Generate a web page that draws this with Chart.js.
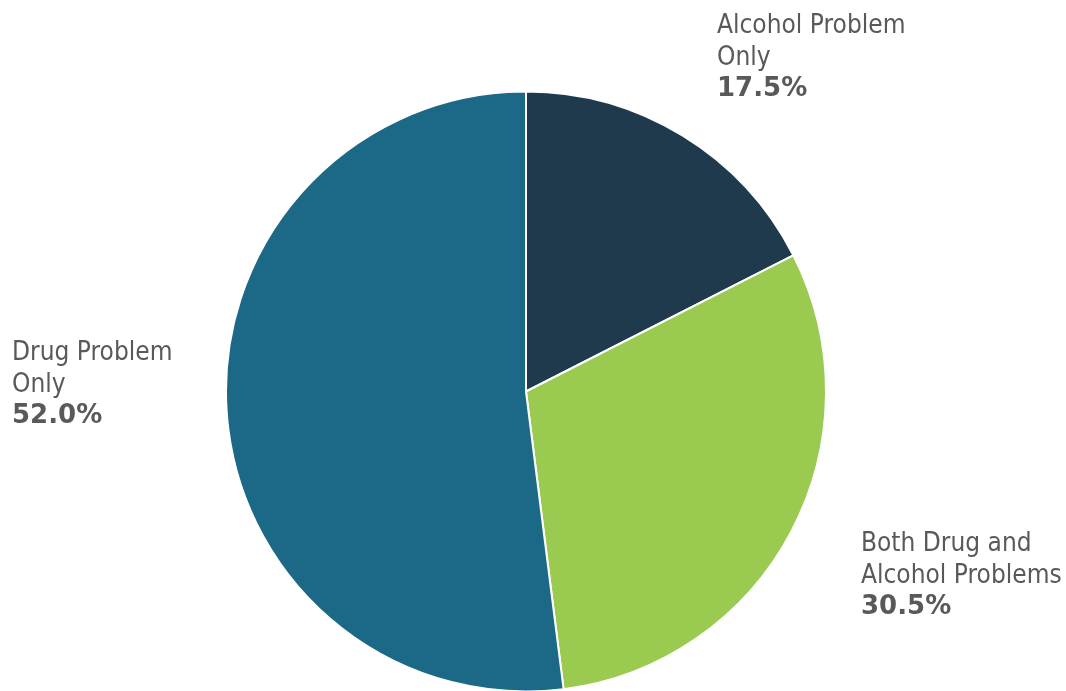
<!DOCTYPE html>
<html>
<head>
<meta charset="utf-8">
<script src="https://cdn.jsdelivr.net/npm/chart.js@4"></script>
<style>
    html, body { margin: 0; padding: 0; background: #fff; overflow: hidden; }
    #wrap { width: 1066px; height: 691px; }
</style>
</head>
<body>
<div id="wrap"><canvas id="pieChart"></canvas></div>
<script>
const categories = ['Alcohol Problem Only', 'Both Drug and Alcohol Problems', 'Drug Problem Only'];
const labelLines = [['Alcohol Problem', 'Only'], ['Both Drug and', 'Alcohol Problems'], ['Drug Problem', 'Only']];
const shares = [17.5, 30.5, 52.0];
const colors = ['#1f3a4d', '#9acb50', '#1b6986'];

// where each label block starts (left x, first baseline y)
const labelAnchors = [[717, 33], [861, 551], [12, 360]];

const sideLabels = {
    id: 'sideLabels',
    afterDatasetsDraw(chart) {
        const { ctx } = chart;
        const font = 'DejaVu Sans, Verdana, sans-serif';
        const squeeze = 0.9; // DejaVu is wider than the Tahoma-ish original
        ctx.save();
        ctx.fillStyle = '#595959';
        ctx.textAlign = 'left';
        ctx.textBaseline = 'alphabetic';
        chart.data.datasets[0].data.forEach((value, i) => {
            const [x, y] = labelAnchors[i];
            ctx.save();
            ctx.translate(x, 0);
            ctx.scale(squeeze, 1);
            ctx.font = `26px ${font}`;
            labelLines[i].forEach((line, j) => ctx.fillText(line, 0, y + j * 31.5));
            ctx.restore();
            ctx.font = `bold 26px ${font}`;
            ctx.fillText(value.toFixed(1) + '%', x, y + labelLines[i].length * 31.5);
        });
        ctx.restore();
    },
};

new Chart(document.getElementById('pieChart'), {
    type: 'pie',
    data: {
        labels: categories,
        datasets: [{ data: shares, backgroundColor: colors, borderColor: '#ffffff', borderWidth: 2, hoverOffset: 0 }],
    },
    options: {
        responsive: true,
        maintainAspectRatio: false,
        animation: false,
        radius: 300,
        layout: { padding: { top: 92, bottom: 0, left: 0, right: 14 } },
        plugins: { legend: { display: false }, tooltip: { enabled: false } },
    },
    plugins: [sideLabels],
});
</script>
</body>
</html>
